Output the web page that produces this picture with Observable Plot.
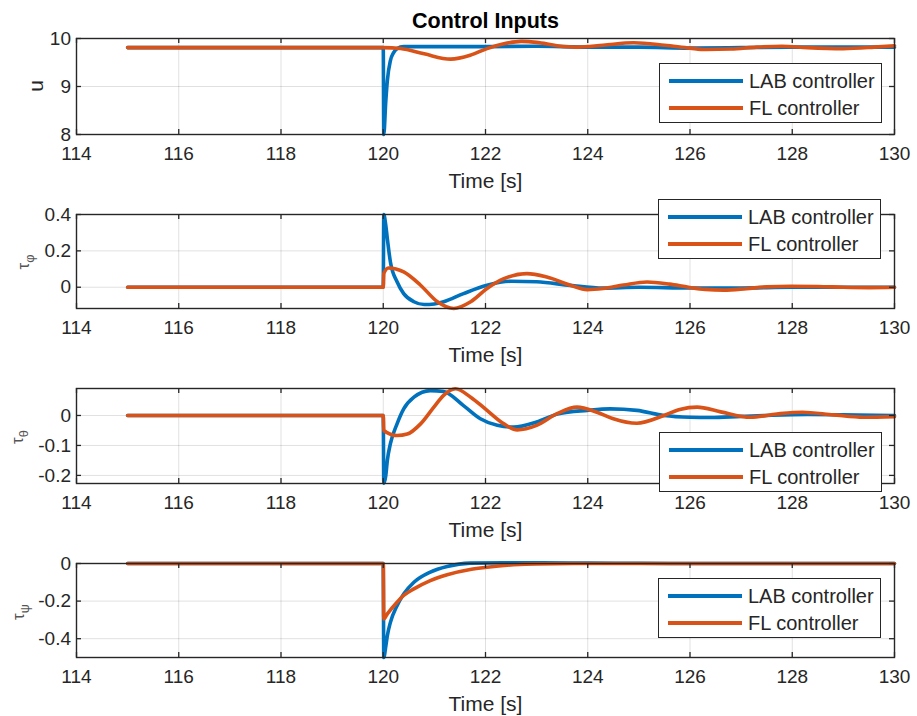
<!DOCTYPE html>
<html>
<head>
<meta charset="utf-8">
<script src="https://cdn.jsdelivr.net/npm/d3@7"></script>
<script src="https://cdn.jsdelivr.net/npm/@observablehq/plot@0.6"></script>
<style>
  html, body { margin: 0; padding: 0; background: #fff; }
  #root { position: relative; width: 917px; height: 716px; overflow: hidden; background: #fff;
          font-family: "Liberation Sans", Arial, Helvetica, sans-serif; color: #262626; }
  #root svg { position: absolute; left: 0; }
  .ylab { position: absolute; transform: translate(-50%, -50%) rotate(-90deg); white-space: nowrap; line-height: 1; }
  .legend { position: absolute; background: #fff; border: 1.3px solid #262626; box-sizing: border-box; width: 223px; height: 60px; }
  .legend .sw { position: absolute; left: 9px; width: 74px; height: 4px; margin-top: -2px; }
  .legend .tx { position: absolute; left: 89px; font-size: 20px; line-height: 1; transform: translateY(-50%); white-space: nowrap; color: #262626; }
</style>
</head>
<body>
<div id="root"></div>
<script>
// ---------- data ----------
const xTicks = [114, 116, 118, 120, 122, 124, 126, 128, 130];
const seriesNames = ["LAB controller", "FL controller"];
const seriesColors = ["#0072BD", "#D95319"];
const titleText = "Control Inputs";
const xLabel = "Time [s]";

// panel 1: u
const uTicks = [8, 9, 10];
const uLAB = [[115,9.81],[120,9.81],[120.01,8.0],[120.05,8.7],[120.08,9.12],[120.14,9.54],[120.2,9.7],[120.27,9.79],[120.4,9.83],[121,9.83],[122,9.83],[123,9.84],[124,9.82],[125,9.82],[126,9.8],[127,9.81],[128,9.82],[130,9.82]];
const uFL = [[115,9.81],[120,9.81],[120.34,9.79],[120.8,9.68],[121.32,9.57],[121.7,9.65],[122.03,9.79],[122.36,9.89],[122.7,9.94],[123.0,9.92],[123.4,9.85],[123.8,9.82],[124.3,9.86],[124.9,9.91],[125.5,9.86],[126.0,9.8],[126.3,9.77],[126.8,9.78],[127.3,9.82],[127.8,9.84],[128.3,9.81],[129.0,9.79],[129.6,9.82],[130,9.85]];

// panel 2: tau_phi
const phiTicks = [0, 0.2, 0.4];
const phiLAB = [[115,0],[120,0],[120.01,0.4],[120.05,0.34],[120.08,0.267],[120.14,0.139],[120.27,0.03],[120.4,-0.035],[120.6,-0.08],[120.8,-0.095],[121.0,-0.092],[121.18,-0.08],[121.57,-0.035],[122.03,0.011],[122.5,0.033],[123.0,0.03],[123.66,0.01],[124.3,-0.005],[125,0.0],[126,-0.004],[127,-0.004],[128,0.0],[130,0.0]];
const phiFL = [[115,0],[120,0],[120.01,0.075],[120.1,0.106],[120.4,0.084],[120.73,0.011],[121.06,-0.08],[121.38,-0.117],[121.71,-0.08],[122.03,-0.007],[122.36,0.047],[122.81,0.075],[123.2,0.056],[123.66,0.011],[123.99,-0.013],[124.3,-0.007],[124.7,0.012],[125.16,0.029],[125.6,0.017],[125.97,0.0],[126.3,-0.012],[126.66,-0.016],[127.1,-0.008],[127.5,0.002],[127.97,0.005],[128.5,0.004],[129,0.0],[129.5,-0.002],[130,0.0]];

// panel 3: tau_theta
const thTicks = [-0.2, -0.1, 0];
const thLAB = [[115,0],[120,0],[120.01,-0.226],[120.05,-0.2],[120.08,-0.15],[120.14,-0.094],[120.27,-0.028],[120.4,0.022],[120.6,0.061],[120.92,0.083],[121.18,0.08],[121.57,0.033],[121.9,-0.011],[122.23,-0.033],[122.55,-0.039],[123.0,-0.022],[123.43,0.006],[123.99,0.017],[124.44,0.022],[124.96,0.017],[125.49,0.0],[126,-0.006],[126.4,-0.007],[127,-0.003],[127.5,0.0],[128.3,0.003],[129,0.002],[130,0.0]];
const thFL = [[115,0],[120,0],[120.01,-0.05],[120.27,-0.067],[120.47,-0.062],[120.73,-0.028],[120.99,0.028],[121.18,0.067],[121.41,0.089],[121.71,0.061],[122.03,0.017],[122.36,-0.028],[122.62,-0.048],[123.0,-0.033],[123.4,0.006],[123.79,0.028],[124.18,0.011],[124.5,-0.011],[124.96,-0.026],[125.49,0.0],[125.8,0.02],[126.14,0.028],[126.6,0.012],[127.18,-0.006],[127.7,0.005],[128.2,0.011],[128.8,0.002],[129.4,-0.006],[130,-0.004]];

// panel 4: tau_psi
const psiTicks = [-0.4, -0.2, 0];
const psiLAB = [[115,0],[120,0],[120.01,-0.5],[120.05,-0.44],[120.08,-0.384],[120.14,-0.313],[120.27,-0.224],[120.4,-0.162],[120.6,-0.1],[120.92,-0.046],[121.25,-0.016],[121.7,0.002],[122.36,0.004],[123,0.004],[124,0.002],[125,0.001],[126,0.0],[130,0.0]];
const psiFL = [[115,0],[120,0],[120.01,-0.295],[120.08,-0.268],[120.27,-0.206],[120.4,-0.17],[120.6,-0.135],[120.92,-0.091],[121.25,-0.06],[121.7,-0.032],[122.03,-0.02],[122.55,-0.007],[123,-0.002],[124,0.0],[130,0.0]];

// ---------- layout ----------
const root = document.getElementById("root");
const FONT = "'Liberation Sans', Arial, Helvetica, sans-serif";
const INK = "#262626";

const panels = [
  {top: 0,   mt: 38, h: 96, mb: 62, domain: [8, 10],          ticks: uTicks,   lab: uLAB,   fl: uFL,   title: true,
   ylab: {html: "u", x: 35, y: 86, size: 21}, legend: {left: 659, top: 63}},
  {top: 200, mt: 14, h: 94, mb: 62, domain: [-0.117, 0.4],    ticks: phiTicks, lab: phiLAB, fl: phiFL,
   ylab: {html: "τ<sub>φ</sub>", x: 26, y: 262, size: 17}, legend: {left: 658, top: 199}},
  {top: 374, mt: 14, h: 95, mb: 62, domain: [-0.227, 0.09],   ticks: thTicks,  lab: thLAB,  fl: thFL,
   ylab: {html: "τ<sub>θ</sub>", x: 20, y: 437, size: 17}, legend: {left: 659, top: 432}},
  {top: 549, mt: 14, h: 94, mb: 62, domain: [-0.5, 0],        ticks: psiTicks, lab: psiLAB, fl: psiFL,
   ylab: {html: "τ<sub>ψ</sub>", x: 21, y: 612, size: 17}, legend: {left: 658, top: 578}}
];

const W = 917, ML = 76, MR = 23, innerW = W - ML - MR;

for (const p of panels) {
  const H = p.mt + p.h + p.mb;
  const marks = [
    Plot.gridX({ticks: xTicks.slice(1, -1), stroke: "#000", strokeOpacity: 0.12, strokeWidth: 1}),
    Plot.gridY({ticks: p.ticks, stroke: "#000", strokeOpacity: 0.12, strokeWidth: 1}),
    Plot.line(p.lab, {x: d => d[0], y: d => d[1], stroke: seriesColors[0], strokeWidth: 3.6, curve: "monotone-x"}),
    Plot.line(p.fl,  {x: d => d[0], y: d => d[1], stroke: seriesColors[1], strokeWidth: 3.6, curve: "monotone-x"}),
    Plot.frame({stroke: INK, strokeWidth: 1.4}),
    Plot.tickX(xTicks, {x: d => d, stroke: INK, strokeWidth: 1.3, insetTop: p.h - 5}),
    Plot.tickX(xTicks, {x: d => d, stroke: INK, strokeWidth: 1.3, insetBottom: p.h - 5}),
    Plot.tickY(p.ticks, {y: d => d, stroke: INK, strokeWidth: 1.3, insetRight: innerW - 5}),
    Plot.tickY(p.ticks, {y: d => d, stroke: INK, strokeWidth: 1.3, insetLeft: innerW - 5}),
    Plot.axisX({ticks: xTicks, tickSize: 0, tickPadding: 11.5, tickFormat: d => String(d), label: null, fill: INK}),
    Plot.axisY({ticks: p.ticks, tickSize: 0, tickPadding: 5.5, tickFormat: d => String(d), label: null, fill: INK}),
    Plot.text([xLabel], {text: d => d, frameAnchor: "bottom", dy: 53, fill: INK, fontSize: 21})
  ];
  if (p.title) {
    marks.push(Plot.text([titleText], {text: d => d, frameAnchor: "top", dy: -25.5, fill: "#000", fontSize: 21.5, fontWeight: "bold"}));
  }
  const svg = Plot.plot({
    width: W, height: H,
    marginLeft: ML, marginRight: MR, marginTop: p.mt, marginBottom: p.mb,
    x: {domain: [114, 130], label: null},
    y: {domain: p.domain, label: null},
    style: {fontFamily: FONT, fontSize: "19px", color: INK, background: "transparent", overflow: "visible"},
    marks
  });
  svg.style.top = p.top + "px";
  root.appendChild(svg);

  // y-axis label
  const yl = document.createElement("div");
  yl.className = "ylab";
  yl.style.left = p.ylab.x + "px";
  yl.style.top = p.ylab.y + "px";
  yl.style.fontSize = p.ylab.size + "px";
  yl.style.color = p.title ? INK : "#555";
  yl.innerHTML = p.ylab.html;
  if (!p.title) { const s = yl.querySelector("sub"); s.style.fontSize = "0.75em"; }
  root.appendChild(yl);

  // legend
  const lg = document.createElement("div");
  lg.className = "legend";
  lg.style.left = p.legend.left + "px";
  lg.style.top = p.legend.top + "px";
  seriesNames.forEach((name, i) => {
    const cy = i === 0 ? 17 : 44;
    const sw = document.createElement("div");
    sw.className = "sw";
    sw.style.top = cy + "px";
    sw.style.background = seriesColors[i];
    lg.appendChild(sw);
    const tx = document.createElement("div");
    tx.className = "tx";
    tx.style.top = cy + "px";
    tx.textContent = name;
    lg.appendChild(tx);
  });
  root.appendChild(lg);
}
</script>
</body>
</html>
